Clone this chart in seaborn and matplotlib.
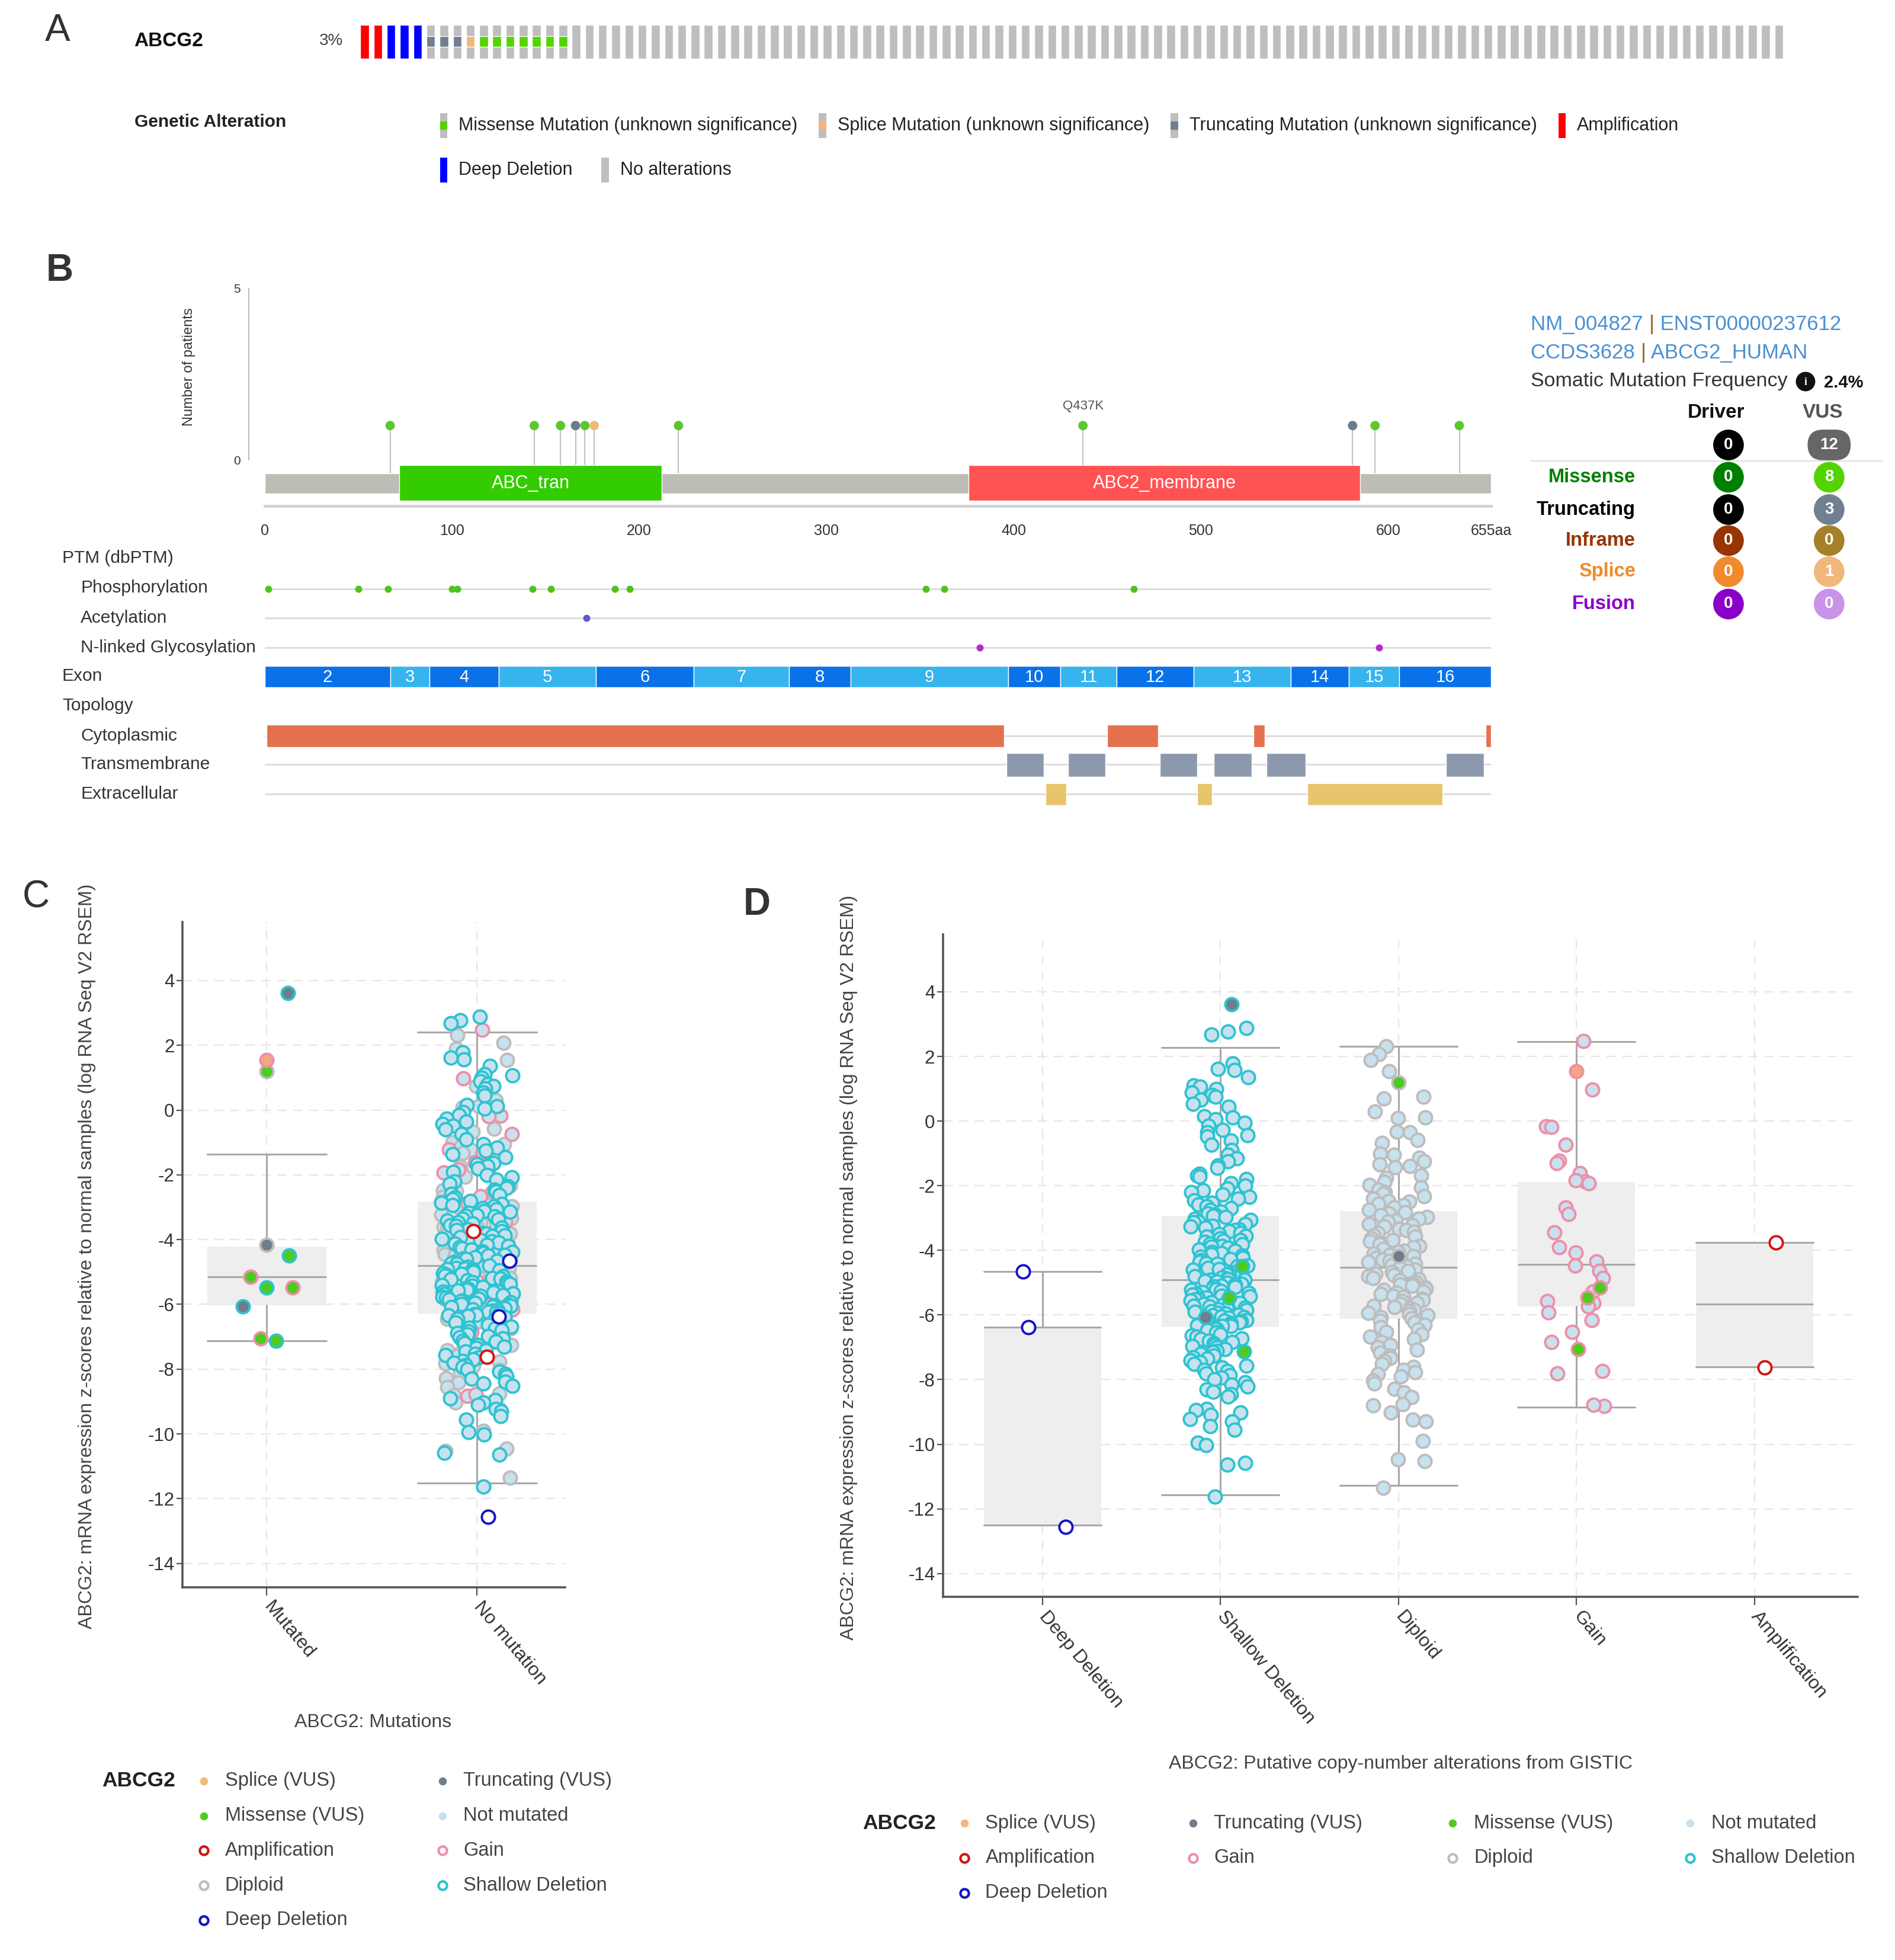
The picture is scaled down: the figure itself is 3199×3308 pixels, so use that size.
import numpy as np
import pandas as pd
import matplotlib
matplotlib.use("Agg")
import matplotlib.pyplot as plt
from matplotlib.patches import Rectangle, Circle, FancyBboxPatch
import seaborn as sns

# ======================= DATA =======================
# --- Panel A: oncoprint ---
onco_types = ["Amplification", "Deep Deletion", "Truncating", "Splice", "Missense", "None"]
onco_counts = [2, 3, 3, 1, 7, 92]
onco_pct = "3%"

# --- Panel B: lollipop / protein ---
protein_length = 655
domain_names = ["ABC_tran", "ABC2_membrane"]
domain_starts = [72, 376]
domain_ends = [212, 585]
mut_positions = [67, 144, 158, 166, 171, 176, 221, 437, 581, 593, 638]
mut_types = ["Missense", "Missense", "Missense", "Truncating", "Missense", "Splice",
             "Missense", "Missense", "Truncating", "Missense", "Missense"]
mut_patients = [1, 1, 1, 1, 1, 1, 1, 1, 1, 1, 1]
labelled_mut = "Q437K"
labelled_pos = 437
ruler_major = [0, 100, 200, 300, 400, 500, 600, 655]
ruler_labels = ["0", "100", "200", "300", "400", "500", "600", "655aa"]
ruler_minor = [50, 150, 250, 350, 450, 550, 650]

phospho_pos = [2, 50, 66, 100, 103, 143, 153, 187, 195, 353, 363, 464]
acetyl_pos = [172]
glyco_pos = [382, 595]
exon_numbers = ["2", "3", "4", "5", "6", "7", "8", "9", "10", "11", "12", "13", "14", "15", "16"]
exon_starts = [0, 67, 88, 125, 177, 229, 280, 313, 397, 425, 455, 496, 548, 579, 606]
exon_ends = [67, 88, 125, 177, 229, 280, 313, 397, 425, 455, 496, 548, 579, 606, 655]
cyto_starts = [1, 450, 528, 652]
cyto_ends = [395, 477, 534, 655]
tm_starts = [396, 429, 478, 507, 535, 631]
tm_ends = [416, 449, 498, 527, 556, 651]
ec_starts = [417, 498, 557]
ec_ends = [428, 506, 629]

# info table
mut_classes = ["Missense", "Truncating", "Inframe", "Splice", "Fusion"]
driver_counts = [0, 0, 0, 0, 0]
vus_counts = [8, 3, 0, 1, 0]
driver_total = 0
vus_total = 12
somatic_freq = "2.4%"

# --- Panels C / D: expression z-scores ---
cna_order = ["Deep Deletion", "Shallow Deletion", "Diploid", "Gain", "Amplification"]
mut_order = ["Mutated", "No mutation"]

deepdel_vals = [-4.65, -6.37, -12.55]
amp_vals = [-3.75, -7.62]
gain_vals = [2.48, 0.98, -0.17, -0.19, -0.74, -1.22, -1.30, -1.62, -1.86, -1.83, -1.93,
             -2.67, -2.87, -3.44, -3.90, -4.06, -4.34, -4.47, -4.64, -4.86, -5.27, -5.62,
             -5.57, -5.74, -5.92, -6.15, -6.53, -6.83, -7.73, -7.81, -8.82, -8.78]
shallow_vals = [
    2.89, 2.78, 2.68, 1.79, 1.62, 1.57, 1.36, 1.10, 1.07, 1.00, 0.88, 0.80, 0.75, 0.67,
    0.54, 0.45, 0.15, 0.11, 0.05, -0.06, -0.15, -0.27, -0.35, -0.43, -0.48, -0.60, -0.74,
    -0.90, -1.05, -1.16, -1.25, -1.37, -1.45, -1.63, -1.68, -1.73, -1.80, -1.92, -2.00,
    -2.08, -2.15, -2.20, -2.28, -2.35, -2.40, -2.46, -2.52, -2.58, -2.63, -2.70, -2.75,
    -2.80, -2.86, -2.90,
    -2.94, -2.97, -3.03, -3.06, -3.11, -3.13, -3.18, -3.24, -3.27, -3.29, -3.35, -3.38,
    -3.41, -3.47, -3.50, -3.56, -3.57, -3.63, -3.68, -3.71, -3.74, -3.79, -3.82, -3.86,
    -3.89, -3.93, -3.97, -4.01, -4.05, -4.08, -4.12, -4.16, -4.19, -4.23, -4.27, -4.30,
    -4.36, -4.39, -4.41, -4.47, -4.49, -4.55, -4.58, -4.60, -4.66, -4.69, -4.73, -4.75,
    -4.81, -4.83, -4.87, -4.89, -4.91, -4.92,
    -4.95, -4.97, -5.00, -5.04, -5.06, -5.09, -5.12, -5.14, -5.18, -5.20, -5.23, -5.26,
    -5.29, -5.31, -5.35, -5.37, -5.40, -5.43, -5.46, -5.49, -5.52, -5.55, -5.57, -5.60,
    -5.63, -5.66, -5.68, -5.71, -5.74, -5.77, -5.79, -5.82, -5.85, -5.88, -5.90, -5.93,
    -5.96, -5.99, -6.01, -6.04, -6.07, -6.09, -6.12, -6.15, -6.17, -6.20, -6.23, -6.25,
    -6.28, -6.30, -6.32, -6.34, -6.35,
    -6.40, -6.44, -6.47, -6.52, -6.55, -6.60, -6.63, -6.68, -6.72, -6.75, -6.80, -6.84,
    -6.88, -6.93, -6.97, -7.01, -7.06, -7.12, -7.15, -7.20, -7.26, -7.31, -7.35, -7.41,
    -7.46, -7.52, -7.57, -7.63, -7.69, -7.74, -7.80, -7.87, -7.93, -8.00, -8.08, -8.15,
    -8.22, -8.30, -8.38, -8.45, -8.52, -8.90, -8.95, -9.02, -9.10, -9.22, -9.30, -9.44,
    -9.55, -9.95, -10.02, -10.58, -10.64, -11.63]
diploid_vals = [
    2.31, 2.07, 1.90, 1.55, 0.75, 0.69, 0.30, 0.12, 0.09, -0.32, -0.35, -0.58, -0.67,
    -1.00, -1.05, -1.13, -1.24, -1.33, -1.40, -1.42, -1.68, -1.75, -1.89, -1.98, -2.05,
    -2.12, -2.20, -2.25, -2.33, -2.40, -2.47, -2.50, -2.57, -2.60, -2.68, -2.74,
    -2.82, -2.86, -2.92, -2.97, -3.02, -3.07, -3.12, -3.18, -3.22, -3.27, -3.33, -3.38,
    -3.42, -3.47, -3.53, -3.58, -3.62, -3.68, -3.72, -3.77, -3.82, -3.86, -3.91, -3.96,
    -4.01, -4.05, -4.10, -4.15, -4.18, -4.24, -4.28, -4.33, -4.37, -4.42, -4.46, -4.50,
    -4.55, -4.60, -4.63, -4.68, -4.72, -4.76, -4.80, -4.85, -4.89, -4.93, -4.98, -5.02,
    -5.06, -5.10, -5.15, -5.19, -5.23, -5.27, -5.32, -5.36, -5.40, -5.45, -5.49, -5.53,
    -5.58, -5.62, -5.66, -5.71, -5.75, -5.79, -5.84, -5.88, -5.93, -5.97, -6.02, -6.06,
    -6.11,
    -6.17, -6.24, -6.30, -6.38, -6.45, -6.52, -6.60, -6.68, -6.75, -6.83, -6.92, -7.00,
    -7.08, -7.17, -7.25, -7.34, -7.42, -7.52, -7.60, -7.70, -7.77, -7.82, -7.90, -8.03,
    -8.12, -8.28, -8.40, -8.55, -8.76, -8.80, -9.02, -9.23, -9.30, -9.90, -10.46, -10.52,
    -11.35]

# mutated samples: value, mutation type, copy-number status
mutated_vals = [3.61, 1.54, 1.19, -4.17, -4.49, -5.15, -5.47, -5.47, -6.07, -7.13, -7.06]
mutated_types = ["Truncating", "Splice", "Missense", "Truncating", "Missense", "Missense",
                 "Missense", "Missense", "Truncating", "Missense", "Missense"]
mutated_cna = ["Shallow Deletion", "Gain", "Diploid", "Diploid", "Shallow Deletion", "Gain",
               "Shallow Deletion", "Gain", "Shallow Deletion", "Shallow Deletion", "Gain"]

# box statistics
boxC_q1 = [-6.03, -6.28]
boxC_med = [-5.15, -4.81]
boxC_q3 = [-4.21, -2.83]
boxC_lo = [-7.13, -11.51]
boxC_hi = [-1.36, 2.41]
boxD_q1 = [-12.50, -6.36, -6.13, -5.74, -7.61]
boxD_med = [-6.37, -4.92, -4.52, -4.44, -5.66]
boxD_q3 = [-6.37, -2.93, -2.78, -1.89, -3.75]
boxD_lo = [-12.50, -11.57, -11.27, -8.85, -7.61]
boxD_hi = [-4.65, 2.28, 2.31, 2.46, -3.75]

# ======================= STYLE =======================
sns.set_style("white")
plt.rcParams['font.family'] = ['Liberation Sans', 'DejaVu Sans']
np.random.seed(5)

W, H = 1525.0, 1577.0
fig = plt.figure(figsize=(31.99, 33.08), dpi=100)


def rect(l, t, r, b):
    return [l / W, 1 - b / H, (r - l) / W, (b - t) / H]


ov = fig.add_axes([0, 0, 1, 1])
ov.set_xlim(0, W)
ov.set_ylim(H, 0)
ov.axis('off')
ov.set_zorder(10)


def T(x, y, s, size=21, color='#333333', weight='normal', ha='left', va='center', **kw):
    return ov.text(x, y, s, fontsize=size, color=color, fontweight=weight, ha=ha, va=va, **kw)


# ======================= PANEL A =======================
T(36, 25, "A", size=46)
T(108, 33, "ABCG2", size=24, weight='bold', color='#111111')
T(257, 33, onco_pct, size=20, color='#444444')

onco_samples = np.repeat(onco_types, onco_counts)
n_s = len(onco_samples)
axA = fig.add_axes(rect(290, 20, 1435, 47))
xs = np.arange(n_s)
full_color = {"Amplification": "#ff0000", "Deep Deletion": "#0000ff"}
axA.bar(xs, 1, width=0.65, bottom=0, color=[full_color.get(t, "#bebebe") for t in onco_samples])
onco_mut_col = {"Truncating": "#708090", "Splice": "#f0b87b", "Missense": "#53d400"}
mi = [i for i, t in enumerate(onco_samples) if t in onco_mut_col]
axA.bar(mi, 0.31, bottom=0.345, width=0.65, color=[onco_mut_col[onco_samples[i]] for i in mi])
axA.set_xlim(-0.325, n_s - 1 + 0.325)
axA.set_ylim(0, 1)
axA.axis('off')

T(108, 98, "Genetic Alteration", size=21.5, weight='bold', color='#222222')
legA = [(357, 101, "#53d400", False, "Missense Mutation (unknown significance)"),
        (662, 101, "#f0b87b", False, "Splice Mutation (unknown significance)"),
        (945, 101, "#708090", False, "Truncating Mutation (unknown significance)"),
        (1257, 101, "#ff0000", True, "Amplification"),
        (357, 137, "#0000ff", True, "Deep Deletion"),
        (487, 137, "#bebebe", True, "No alterations")]
for x, y, c, full, lab in legA:
    ov.add_patch(Rectangle((x - 3, y - 10), 6, 20, color=c if full else "#bebebe", lw=0))
    if not full:
        ov.add_patch(Rectangle((x - 3, y - 3.5), 6, 7, color=c, lw=0))
    T(x + 12, y, lab, size=22, color='#222222')

# ======================= PANEL B =======================
T(37, 218, "B", size=46, weight='bold')
x0 = -13 / 1.507
axB = fig.add_axes(rect(200, 225, 1200, 407))
axB.set_xlim(x0, protein_length)
axB.set_ylim(-1.34, 5.254)
axB.barh([-0.69], [protein_length], left=[0], height=0.58, color="#bdbdb6", zorder=1)
axB.vlines(mut_positions, -0.4, mut_patients, color="#c4c4c4", lw=1.6, zorder=0.5)
dom_col = ["#33cc00", "#ff5353"]
axB.barh([-0.67] * 2, np.array(domain_ends) - np.array(domain_starts), left=domain_starts,
         height=1.05, color=dom_col, zorder=2)
for nm, s, e in zip(domain_names, domain_starts, domain_ends):
    axB.text((s + e) / 2, -0.69, nm, color='white', ha='center', va='center', fontsize=22, zorder=3)
lolli_pal = {"Missense": "#5cc72c", "Truncating": "#6b7b8b", "Splice": "#f0b87b"}
sns.scatterplot(x=mut_positions, y=mut_patients, hue=mut_types, palette=lolli_pal, s=130,
                edgecolor='none', legend=False, ax=axB, zorder=4)
axB.text(labelled_pos, 1.56, labelled_mut, ha='center', va='center', fontsize=16, color='#555555')
for sp in ["top", "right"]:
    axB.spines[sp].set_visible(False)
axB.spines["left"].set_bounds(0, 5)
axB.spines["left"].set_color("#bbbbbb")
axB.spines["left"].set_linewidth(1.5)
axB.spines["bottom"].set_bounds(0, protein_length)
axB.spines["bottom"].set_color("#d2d2d2")
axB.spines["bottom"].set_linewidth(3.5)
axB.set_yticks([0, 1, 2, 3, 4, 5])
axB.set_yticklabels(["0", "", "", "", "", "5"])
axB.tick_params(axis='y', length=6, width=1.3, color='#bbbbbb', labelsize=15, labelcolor='#333333', pad=4)
axB.set_xticks(ruler_major)
axB.set_xticklabels(ruler_labels)
axB.set_xticks(ruler_minor, minor=True)
axB.tick_params(axis='x', which='both', length=13, width=1.4, color='#aaaaaa', labelsize=18,
                labelcolor='#333333', pad=9, direction='out')
axB.patch.set_alpha(0)
T(152, 295, "Number of patients", size=17, rotation=90, ha='center', color='#333333')

# PTM / exon / topology tracks
axP = fig.add_axes(rect(213, 440, 1200, 660))
axP.set_xlim(0, protein_length)
axP.set_ylim(660, 440)
axP.axis('off')
for yy in [474, 497, 521, 592, 615, 639]:
    axP.hlines(yy, 0, protein_length, color='#dddddd', lw=2.2, zorder=0)
axP.scatter(phospho_pos, [474] * len(phospho_pos), s=75, color='#4fc31c', zorder=3, lw=0)
axP.scatter(acetyl_pos, [497] * len(acetyl_pos), s=75, color='#5a5ad8', zorder=3, lw=0)
axP.scatter(glyco_pos, [521] * len(glyco_pos), s=75, color='#b52cc9', zorder=3, lw=0)
ex_cols = ["#0a72e8" if i % 2 == 0 else "#36b4ee" for i in range(len(exon_numbers))]
axP.barh([544.5] * len(exon_numbers), np.array(exon_ends) - np.array(exon_starts), left=exon_starts,
         height=17, color=ex_cols, zorder=2)
for lab, s, e in zip(exon_numbers, exon_starts, exon_ends):
    axP.text((s + e) / 2, 545, lab, color='white', ha='center', va='center', fontsize=21, zorder=3)
axP.barh([592] * len(cyto_starts), np.array(cyto_ends) - np.array(cyto_starts), left=cyto_starts,
         height=18, color="#e4704e", zorder=2)
axP.barh([615.5] * len(tm_starts), np.array(tm_ends) - np.array(tm_starts), left=tm_starts,
         height=19, color="#8c99ad", zorder=2)
axP.barh([639] * len(ec_starts), np.array(ec_ends) - np.array(ec_starts), left=ec_starts,
         height=18, color="#e8c46a", zorder=2)

for x, y, s in [(50, 449, "PTM (dbPTM)"), (65, 473, "Phosphorylation"), (65, 497, "Acetylation"),
                (65, 521, "N-linked Glycosylation"), (50, 544, "Exon"), (50, 568, "Topology"),
                (65, 592, "Cytoplasmic"), (65, 615, "Transmembrane"), (65, 639, "Extracellular")]:
    T(x, y, s, size=21.5, color='#333333')


# info panel
def chain(x, y, parts, size):
    t = ov.text(x, y, parts[0][0], color=parts[0][1], fontsize=size, ha='left', va='center')
    for s, c in parts[1:]:
        t = ov.annotate(s, xy=(1, 0.5), xycoords=t, color=c, fontsize=size, ha='left', va='center')
    return t


blue = "#4a90d2"
chain(1232, 261, [("NM_004827 ", blue), ("|", "#9a6a2a"), (" ENST00000237612", blue)], 25)
chain(1232, 284, [("CCDS3628 ", blue), ("|", "#9a6a2a"), (" ABCG2_HUMAN", blue)], 25)
T(1232, 307, "Somatic Mutation Frequency", size=24.5, color='#333333')
ov.add_patch(Circle((1453, 307), 7.5, color='#111111'))
T(1453, 307.5, "i", size=13, color='white', weight='bold', ha='center')
T(1468, 308, somatic_freq, size=21, weight='bold', color='#111111')
T(1381, 332, "Driver", size=24, weight='bold', color='#111111', ha='center')
T(1467, 332, "VUS", size=24, weight='bold', color='#555555', ha='center')
ov.add_patch(Circle((1391, 358), 12, color='#000000'))
T(1391, 358, str(driver_total), size=20, weight='bold', color='white', ha='center')
ov.add_patch(FancyBboxPatch((1472 - 17, 358 - 12), 34, 24, boxstyle="round,pad=0,rounding_size=12",
                            color='#666666'))
T(1472, 358, str(vus_total), size=20, weight='bold', color='white', ha='center')
ov.plot([1232, 1515], [371, 371], color='#e0e0e0', lw=1.5)
lab_cols = ["#008000", "#000000", "#993404", "#f08a2c", "#8b00c9"]
drv_cols = ["#008000", "#000000", "#993404", "#f08a2c", "#8b00c9"]
vus_cols = ["#53d400", "#708090", "#a68028", "#f0b87b", "#c893e8"]
row_y = [384, 410, 435, 460, 486]
for lab, lc, dc, vc, dn, vn, y in zip(mut_classes, lab_cols, drv_cols, vus_cols, driver_counts, vus_counts, row_y):
    T(1316, y, lab, size=23.5, weight='bold', color=lc, ha='right')
    ov.add_patch(Circle((1391, y), 12, color=dc))
    T(1391, y, str(dn), size=20, weight='bold', color='white', ha='center')
    ov.add_patch(Circle((1472, y), 12, color=vc))
    T(1472, y, str(vn), size=20, weight='bold', color='white', ha='center')

# ======================= PANELS C / D =======================
rows = []
for cna, vals in [("Deep Deletion", deepdel_vals), ("Shallow Deletion", shallow_vals),
                  ("Diploid", diploid_vals), ("Gain", gain_vals), ("Amplification", amp_vals)]:
    for v in vals:
        rows.append((v, cna, "Not mutated"))
for v, m, c in zip(mutated_vals, mutated_types, mutated_cna):
    rows.append((v, c, m))
df = pd.DataFrame(rows, columns=["z", "cna", "mut"])
df["mgroup"] = np.where(df["mut"] == "Not mutated", "No mutation", "Mutated")

fill_col = {"Not mutated": "#c8e1ee", "Missense": "#4dcc1f", "Truncating": "#6f7d8c", "Splice": "#f4a582"}
edge_col = {"Deep Deletion": "#1414c8", "Shallow Deletion": "#2ec3d1", "Diploid": "#bdbdbd",
            "Gain": "#ef8ea8", "Amplification": "#d41414"}
open_cna = ["Deep Deletion", "Amplification"]
layer = ["Diploid", "Gain", "Shallow Deletion", "Amplification", "Deep Deletion"]
PT_SIZE = 16
PT_LW = 2.8
box_c = '#a8a8a8'


def draw_points(ax, xcol, order, jit_nm, jit_m):
    for cna in layer:
        sub = df[(df.cna == cna) & (df.mut == "Not mutated")]
        if len(sub) == 0:
            continue
        fc = "white" if cna in open_cna else fill_col["Not mutated"]
        sns.stripplot(data=sub, x=xcol, y="z", order=order, jitter=jit_nm, color=fc,
                      edgecolor=edge_col[cna], linewidth=PT_LW, size=PT_SIZE, ax=ax, zorder=3)
    for cna in layer:
        for m in ["Missense", "Truncating", "Splice"]:
            sub = df[(df.cna == cna) & (df.mut == m)]
            if len(sub) == 0:
                continue
            sns.stripplot(data=sub, x=xcol, y="z", order=order, jitter=jit_m, color=fill_col[m],
                          edgecolor=edge_col[cna], linewidth=PT_LW, size=PT_SIZE, ax=ax, zorder=4)


def style_axes(ax, cats, xlim, ylim):
    ax.set_xlim(*xlim)
    ax.set_ylim(*ylim)
    ax.set_xticks(range(len(cats)))
    ax.set_xticklabels(cats, rotation=-50, ha='left', va='center', rotation_mode='anchor')
    ax.set_yticks(np.arange(-14, 5, 2))
    ax.set_yticklabels([str(v) for v in np.arange(-14, 5, 2)])
    ax.set_xlabel("")
    ax.set_ylabel("")
    ax.grid(True, axis='both', linestyle=(0, (7, 5)), color='#e6e6e6', lw=1.6)
    ax.set_axisbelow(True)
    for sp in ["top", "right"]:
        ax.spines[sp].set_visible(False)
    for sp in ["left", "bottom"]:
        ax.spines[sp].set_color('#555555')
        ax.spines[sp].set_linewidth(2.6)
    ax.tick_params(axis='y', length=7, width=1.6, color='#555555', labelsize=22.5, labelcolor='#333333', pad=3,
                   left=True)
    ax.tick_params(axis='x', length=10, width=1.6, color='#555555', labelsize=23, labelcolor='#333333', pad=10,
                   bottom=True)
    ax.patch.set_alpha(0)


def boxes(ax, q1, med, q3, lo, hi, width):
    stats = [dict(q1=a, med=b, q3=c, whislo=d, whishi=e, fliers=[]) for a, b, c, d, e in zip(q1, med, q3, lo, hi)]
    ax.bxp(stats, positions=list(range(len(stats))), widths=width, capwidths=width, patch_artist=True,
           showfliers=False, manage_ticks=False,
           boxprops=dict(facecolor='#eeeeee', edgecolor='none', linewidth=0),
           whiskerprops=dict(color=box_c, linewidth=2.2), capprops=dict(color=box_c, linewidth=2.2),
           medianprops=dict(color=box_c, linewidth=2.2), zorder=2)


# Panel C
T(18, 722, "C", size=46)
axC = fig.add_axes(rect(147, 742, 455, 1277))
boxes(axC, boxC_q1, boxC_med, boxC_q3, boxC_lo, boxC_hi, 0.565)
draw_points(axC, "mgroup", mut_order, 0.17, 0.13)
style_axes(axC, mut_order, (-0.40, 1.42), (-14.73, 5.8))
ylab = "ABCG2: mRNA expression z-scores relative to normal samples (log RNA Seq V2 RSEM)"
T(70, 1011, ylab, size=23, rotation=90, ha='center', color='#444444')
T(300, 1386, "ABCG2: Mutations", size=23, ha='center', color='#444444')

# Panel D
T(598, 728, "D", size=46, weight='bold')
axD = fig.add_axes(rect(759, 752, 1495, 1285))
boxes(axD, boxD_q1, boxD_med, boxD_q3, boxD_lo, boxD_hi, 0.66)
draw_points(axD, "cna", cna_order, 0.17, 0.15)
style_axes(axD, cna_order, (-0.558, 4.58), (-14.73, 5.77))
T(683, 1020, ylab, size=23, rotation=90, ha='center', color='#444444')
T(1127, 1419, "ABCG2: Putative copy-number alterations from GISTIC", size=23, ha='center', color='#444444')


# legends
def leg_item(x, y, kind, key, text):
    if kind == "mut":
        ov.scatter([x], [y], s=95, color=fill_col[key] if key != "Splice" else "#f0b87b", lw=0)
    elif kind == "nm":
        ov.scatter([x], [y], s=95, color="#c8e1ee", lw=0)
    else:
        ov.scatter([x], [y], s=105, facecolor='white', edgecolor=edge_col[key], lw=3)
    T(x + 17, y, text, size=23.5, color='#444444')


T(82, 1433, "ABCG2", size=25.5, weight='bold', color='#222222')
legC = [(164, 1433, "mut", "Splice", "Splice (VUS)"), (164, 1461, "mut", "Missense", "Missense (VUS)"),
        (164, 1489, "cna", "Amplification", "Amplification"), (164, 1517, "cna", "Diploid", "Diploid"),
        (164, 1545, "cna", "Deep Deletion", "Deep Deletion"),
        (356, 1433, "mut", "Truncating", "Truncating (VUS)"), (356, 1461, "nm", None, "Not mutated"),
        (356, 1489, "cna", "Gain", "Gain"), (356, 1517, "cna", "Shallow Deletion", "Shallow Deletion")]
for it in legC:
    leg_item(*it)

T(694, 1467, "ABCG2", size=25.5, weight='bold', color='#222222')
legD = [(776, 1467, "mut", "Splice", "Splice (VUS)"), (960, 1467, "mut", "Truncating", "Truncating (VUS)"),
        (1169, 1467, "mut", "Missense", "Missense (VUS)"), (1360, 1467, "nm", None, "Not mutated"),
        (776, 1495, "cna", "Amplification", "Amplification"), (960, 1495, "cna", "Gain", "Gain"),
        (1169, 1495, "cna", "Diploid", "Diploid"), (1360, 1495, "cna", "Shallow Deletion", "Shallow Deletion"),
        (776, 1523, "cna", "Deep Deletion", "Deep Deletion")]
for it in legD:
    leg_item(*it)

fig.savefig("out.png", dpi=100, facecolor='white')
